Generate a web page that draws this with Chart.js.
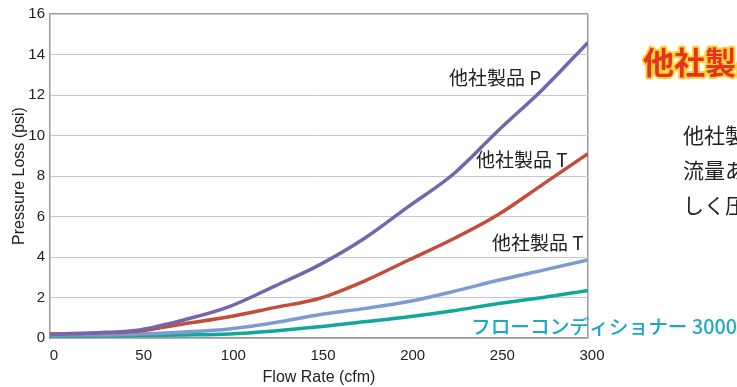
<!DOCTYPE html>
<html><head><meta charset="utf-8">
<script src="https://cdn.jsdelivr.net/npm/chart.js@4/dist/chart.umd.min.js"></script>
<style>html,body{margin:0;padding:0;background:#fff;overflow:hidden}#wrap{width:737px;height:387px;position:relative}</style>
</head><body><div id="wrap"><canvas id="c" width="737" height="387"></canvas></div>
<script>
const flowRates = [0,25,50,75,100,125,150,175,200,225,250,275,300];
const productP  = [0.2,0.25,0.4,0.9,1.55,2.55,3.6,4.9,6.5,8.1,10.25,12.3,14.6];
const productT1 = [0.2,0.25,0.35,0.7,1.05,1.5,1.95,2.8,3.85,4.9,6.1,7.6,9.1];
const productT2 = [0.15,0.15,0.2,0.3,0.45,0.75,1.15,1.45,1.8,2.3,2.85,3.35,3.85];
const conditioner = [0.1,0.1,0.12,0.15,0.2,0.35,0.55,0.8,1.05,1.35,1.7,2.0,2.35];
const yTicks = [0,2,4,6,8,10,12,14,16];
const xTicks = [0,50,100,150,200,250,300];
const seriesLabels = ['他社製品 P','他社製品 T','他社製品 T','フローコンディショナー 3000'];

const toXY = arr => arr.map((v,i)=>({x:flowRates[i],y:v}));
const jp = "'Noto Sans CJK JP', 'Noto Sans', sans-serif";
const lat = "'Liberation Sans', Arial, sans-serif";

const annot = {
  id:'annot',
  afterDraw(chart){
    const ctx = chart.ctx, xs = chart.scales.x, ys = chart.scales.y;
    ctx.save();
    ctx.textBaseline='middle';
    ctx.textAlign='left';
    ctx.fillStyle='#222';
    ctx.font = "19px " + jp;
    ctx.fillText(seriesLabels[0], xs.getPixelForValue(222.5), ys.getPixelForValue(12.83));
    ctx.fillText(seriesLabels[1], xs.getPixelForValue(237.5), ys.getPixelForValue(8.78));
    ctx.fillText(seriesLabels[2], xs.getPixelForValue(246.5), ys.getPixelForValue(4.68));
    ctx.fillStyle='#1aa8c2';
    ctx.font = "500 19.7px " + jp;
    ctx.fillText(seriesLabels[3], 471, 327);
    // right side text (cut off by page edge)
    ctx.font = "bold 31px " + jp;
    ctx.lineWidth = 4; ctx.strokeStyle='#ffd23a'; ctx.lineJoin='round';
    ctx.strokeText('他社製品', 643, 62);
    ctx.fillStyle='#e8321e';
    ctx.fillText('他社製品', 643, 62);
    ctx.fillStyle='#222';
    ctx.font = "21px " + jp;
    ctx.fillText('他社製品', 683, 135);
    ctx.fillText('流量あた', 683, 170);
    ctx.fillText('しく圧力', 683, 205);
    ctx.restore();
  }
};

new Chart(document.getElementById('c'), {
  type:'line',
  data:{ datasets:[
    {label:seriesLabels[0], data:toXY(productP), borderColor:'#7565ad', borderWidth:3.5},
    {label:seriesLabels[1], data:toXY(productT1), borderColor:'#c44c3c', borderWidth:3.5},
    {label:seriesLabels[2], data:toXY(productT2), borderColor:'#7d9bd2', borderWidth:3.5},
    {label:seriesLabels[3], data:toXY(conditioner), borderColor:'#13a79a', borderWidth:3.5}
  ].map(d=>Object.assign(d,{pointRadius:0, fill:false, cubicInterpolationMode:'monotone'}))},
  options:{
    responsive:false, animation:false,
    layout:{padding:{left:0,right:149,top:10,bottom:0}},
    plugins:{legend:{display:false}, tooltip:{enabled:false}},
    scales:{
      x:{type:'linear', min:0, max:300,
        afterBuildTicks: s => { s.ticks = xTicks.map(v=>({value:v})); },
        afterFit: s => { s.height = 49; },
        grid:{color: c => c.tick && c.tick.value===300 ? '#9a9aa6' : 'rgba(0,0,0,0)', lineWidth:1.5, drawTicks:false},
        border:{color:'#9a9a9a', width:1.5},
        ticks:{color:'#222', font:{family:lat, size:15}, padding:9, labelOffset:4},
        title:{display:true, text:'Flow Rate (cfm)', color:'#222', font:{family:lat, size:16}, padding:{top:0,bottom:0}}
      },
      y:{min:0, max:16,
        afterBuildTicks: s => { s.ticks = yTicks.map(v=>({value:v})); },
        afterFit: s => { s.width = 50; },
        grid:{color: c => c.tick && c.tick.value===16 ? '#9a9aa6' : '#c4c4da', lineWidth: c => c.tick && c.tick.value===16 ? 1.5 : 1, drawTicks:false},
        border:{color:'#9a9a9a', width:1.5},
        ticks:{color:'#222', font:{family:lat, size:15}, padding:5},
        title:{display:true, text:'Pressure Loss (psi)', color:'#222', font:{family:lat, size:16}, padding:{top:10,bottom:0}}
      }
    }
  },
  plugins:[annot]
});
</script></body></html>
